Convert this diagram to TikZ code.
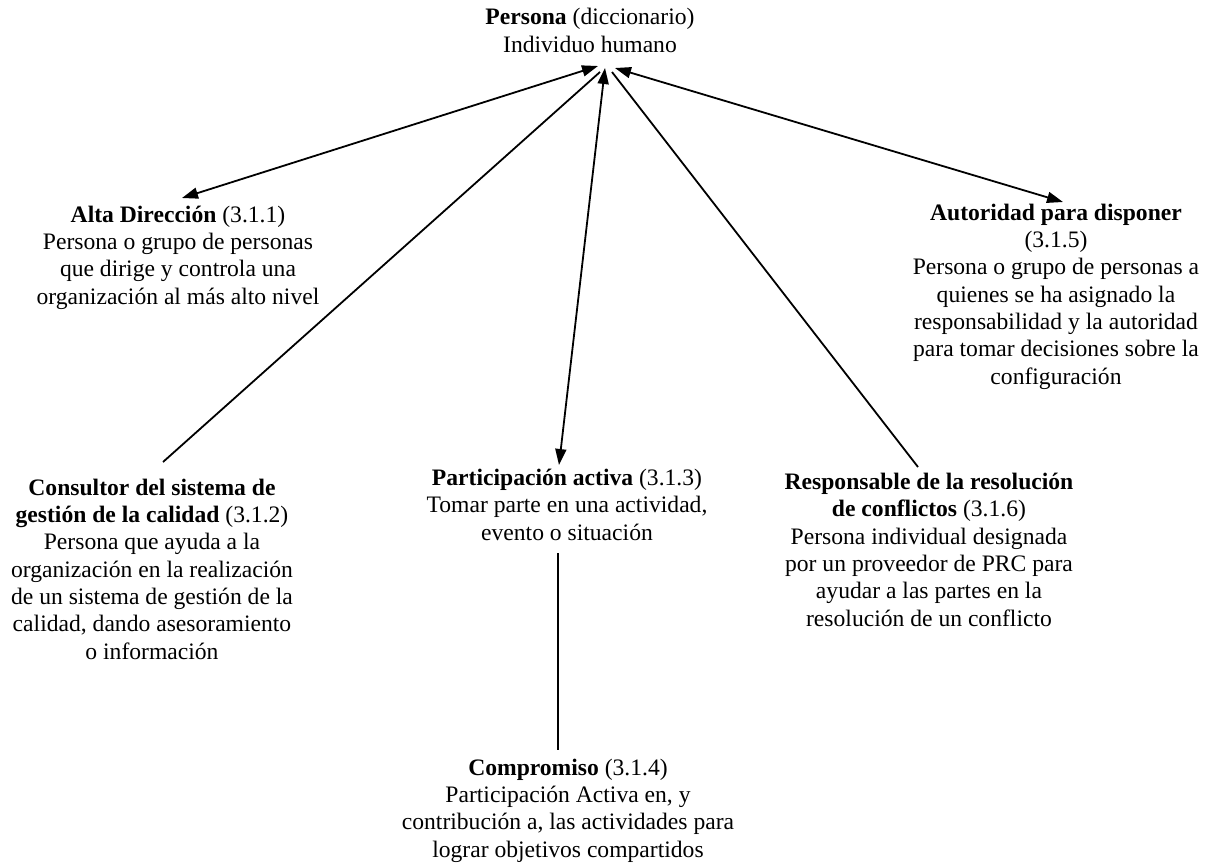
\documentclass[tikz,border=0pt]{standalone}
\usepackage{fontspec}
\setmainfont{Liberation Serif}
\usetikzlibrary{arrows.meta}
\begin{document}
\begin{tikzpicture}[x=0.5pt,y=-0.5pt,
  concept/.style={anchor=base,align=center,inner sep=0pt,
    font=\fontsize{11.8pt}{13.65pt}\selectfont},
  link/.style={line width=0.9pt},
  dlink/.style={line width=0.9pt,{Triangle[length=8pt,width=5.5pt]}-{Triangle[length=8pt,width=5.5pt]}}]
\useasboundingbox (0,0) rectangle (1207,864);
% nodes are placed by the baseline of their last line
\node[concept] (persona) at (590,52) {\textbf{Persona} (diccionario)\\Individuo humano};
\node[concept] (alta) at (178,304) {\textbf{Alta Dirección} (3.1.1)\\Persona o grupo de personas\\que dirige y controla una\\organización al más alto nivel};
\node[concept] (autoridad) at (1056,384) {\textbf{Autoridad para disponer}\\(3.1.5)\\Persona o grupo de personas a\\quienes se ha asignado la\\responsabilidad y la autoridad\\para tomar decisiones sobre la\\configuración};
\node[concept] (consultor) at (152,659) {\textbf{Consultor del sistema de}\\\textbf{gestión de la calidad} (3.1.2)\\Persona que ayuda a la\\organización en la realización\\de un sistema de gestión de la\\calidad, dando asesoramiento\\o información};
\node[concept] (participacion) at (567,540) {\textbf{Participación activa} (3.1.3)\\Tomar parte en una actividad,\\evento o situación};
\node[concept] (responsable) at (929,626) {\textbf{Responsable de la resolución}\\\textbf{de conflictos} (3.1.6)\\Persona individual designada\\por un proveedor de PRC para\\ayudar a las partes en la\\resolución de un conflicto};
\node[concept] (compromiso) at (568,857) {\textbf{Compromiso} (3.1.4)\\Participación Activa en, y\\contribución a, las actividades para\\lograr objetivos compartidos};
% connector end points
\coordinate (p-alta) at (598,66);
\coordinate (p-cons) at (600,72);
\coordinate (p-part) at (605,68);
\coordinate (p-resp) at (612,72);
\coordinate (p-auto) at (615,68);
\coordinate (alta-in) at (182,198);
\coordinate (cons-in) at (163,462);
\coordinate (part-in) at (559,465);
\coordinate (resp-in) at (918,467);
\coordinate (auto-in) at (1063,202);
\coordinate (part-out) at (558,553);
\coordinate (comp-in) at (558,750);
\draw[dlink] (p-alta) -- (alta-in);
\draw[link] (p-cons) -- (cons-in);
\draw[dlink] (p-part) -- (part-in);
\draw[link] (p-resp) -- (resp-in);
\draw[dlink] (p-auto) -- (auto-in);
\draw[link] (part-out) -- (comp-in);
\end{tikzpicture}
\end{document}
